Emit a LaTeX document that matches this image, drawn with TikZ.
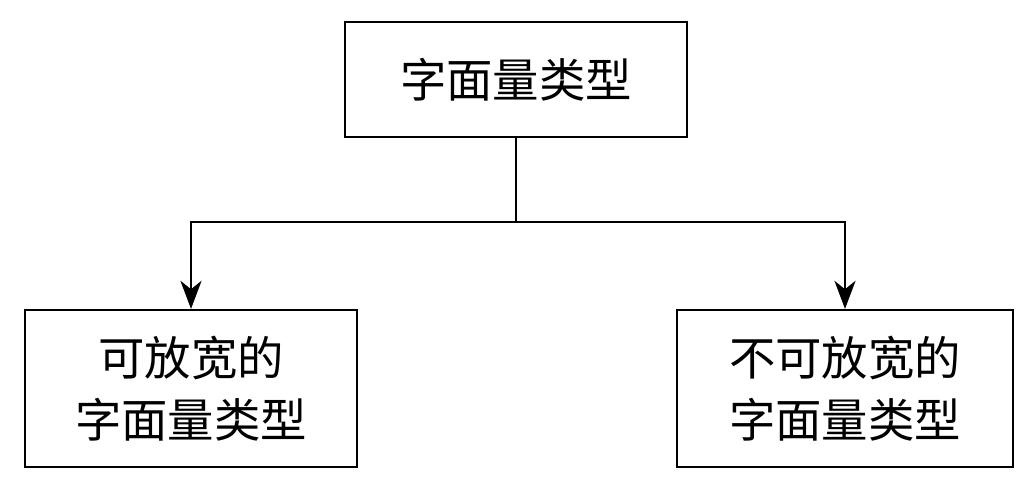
\documentclass[tikz,border=0pt]{standalone}
\usepackage{fontspec}
\setmainfont{Noto Sans CJK SC}
\usetikzlibrary{arrows.meta}
\begin{document}
\begin{tikzpicture}[
    font=\fontsize{33}{44}\selectfont,
    box/.style={rectangle, draw=black, line width=1.4pt, align=center, inner sep=0pt},
    arrow/.style={-{Stealth[length=20pt,width=15pt,inset=6pt]}, line width=1.4pt},
]
    \useasboundingbox (0,0) rectangle (25.75,-12.3);

    % Boxes
    \node[box, minimum width=8.55cm, minimum height=2.875cm] (type) at (12.9,-1.99) {字面量类型};
    \node[box, minimum width=8.3cm, minimum height=3.925cm] (wide) at (4.775,-9.71) {可放宽的\\字面量类型};
    \node[box, minimum width=8.4cm, minimum height=3.925cm] (nowide) at (21.125,-9.71) {不可放宽的\\字面量类型};

    % Connectors
    \coordinate (split) at (12.9,-5.55);
    \draw[line width=1.4pt] (type.south) -- (split);
    \draw[arrow] (split) -| (wide.north);
    \draw[arrow] (split) -| (nowide.north);
\end{tikzpicture}
\end{document}
